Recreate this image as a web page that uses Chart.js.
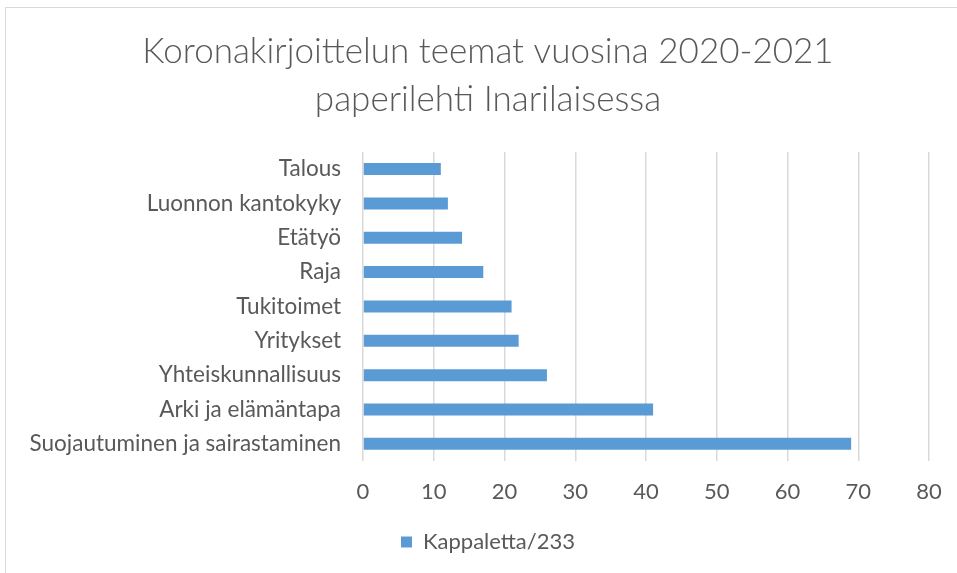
<!DOCTYPE html>
<html>
<head>
<meta charset="utf-8">
<script src="https://cdn.jsdelivr.net/npm/chart.js@4.4.0/dist/chart.umd.min.js"></script>
<style>
  body { margin: 0; background: #fff; }
  #wrap { position: relative; width: 957px; height: 573px; overflow: hidden; }
  #frame { position: absolute; left: 5px; top: 7px; width: 1000px; height: 1000px; border: 1px solid #d9d9d9; }
  canvas { position: absolute; left: 0; top: 0; }
</style>
</head>
<body>
<div id="wrap">
  <div id="frame"></div>
  <canvas id="mycanvas" width="980" height="573"></canvas>
</div>
<script>
var categories = ['Talous', 'Luonnon kantokyky', 'Etätyö', 'Raja', 'Tukitoimet',
  'Yritykset', 'Yhteiskunnallisuus', 'Arki ja elämäntapa', 'Suojautuminen ja sairastaminen'];
var counts = [11, 12, 14, 17, 21, 22, 26, 41, 69];
var seriesName = 'Kappaletta/233';
var titleLines = ['Koronakirjoittelun teemat vuosina 2020-2021', 'paperilehti Inarilaisessa'];
var xMin = 0, xMax = 80, xStep = 10;

var textColor = '#595959';
var fontFamily = "Lato, 'Open Sans', sans-serif";

var chartdata = {
  labels: categories,
  datasets: [{
    label: seriesName,
    backgroundColor: '#5b9bd5',
    borderColor: '#5b9bd5',
    borderWidth: 0,
    barPercentage: 0.7,
    categoryPercentage: 0.5,
    data: counts
  }]
};

var ctx = document.getElementById('mycanvas');
var bargraph = new Chart(ctx, {
  type: 'bar',
  data: chartdata,
  options: {
    indexAxis: 'y',
    responsive: false,
    animation: false,
    layout: { padding: { left: 0, right: 4, top: 28, bottom: 10 } },
    plugins: {
      title: {
        display: true,
        text: titleLines,
        color: textColor,
        font: { family: fontFamily, size: 35, weight: '300', lineHeight: 1.37 },
        padding: { top: 0, bottom: 28 }
      },
      legend: {
        position: 'bottom',
        labels: {
          color: textColor,
          font: { family: fontFamily, size: 22 },
          boxWidth: 11,
          boxHeight: 11,
          padding: 8
        }
      },
      tooltip: { enabled: false }
    },
    scales: {
      x: {
        min: xMin,
        max: xMax,
        ticks: { stepSize: xStep, color: textColor, font: { family: fontFamily, size: 22 }, padding: 18 },
        grid: { color: '#d9d9d9', lineWidth: 1.5, drawTicks: false },
        border: { display: false },
        afterFit: function(scale) { scale.height = 62; }
      },
      y: {
        ticks: { color: textColor, font: { family: fontFamily, size: 22.5 }, padding: 22 },
        grid: { display: false, drawTicks: false },
        border: { display: false },
        afterFit: function(scale) { scale.width = 363; }
      },
      // empty right-hand axis, only keeps room so the title and legend centre like the original
      yRight: {
        type: 'linear',
        position: 'right',
        ticks: { display: false },
        grid: { display: false, drawTicks: false },
        border: { display: false },
        afterFit: function(scale) { scale.width = 47; }
      }
    }
  }
});
</script>
</body>
</html>
